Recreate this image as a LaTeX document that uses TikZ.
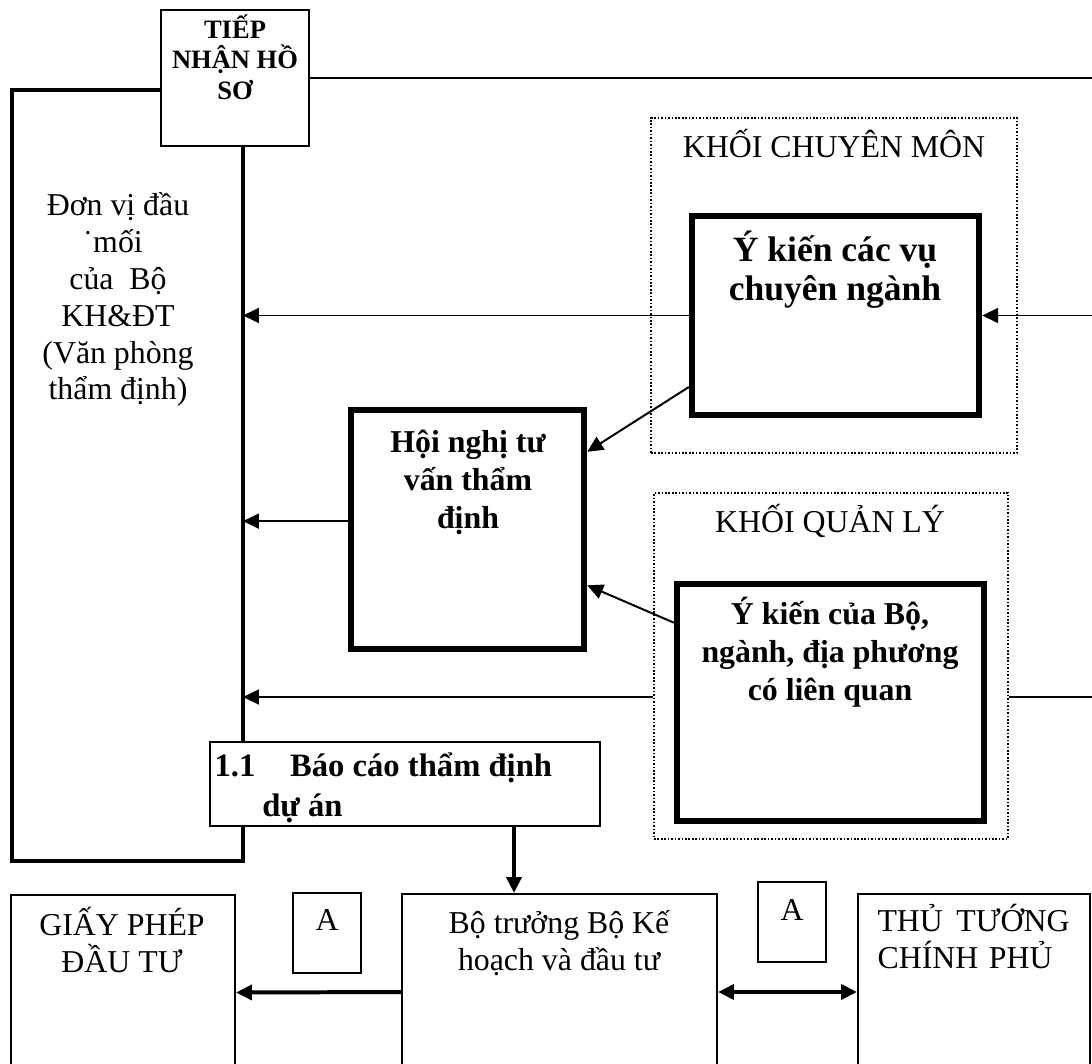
\documentclass[tikz,border=0pt]{standalone}
\usepackage{fontspec}
\setmainfont{Liberation Serif}
\usetikzlibrary{arrows.meta, positioning, fit}

\begin{document}
\begin{tikzpicture}[
  x=0.377pt, y=-0.377pt,
  box/.style={rectangle, draw=black, line width=0.75pt, inner sep=0pt},
  heavybox/.style={rectangle, draw=black, line width=2.4pt, inner sep=0pt},
  group/.style={rectangle, draw=black, line width=0.7pt, dash pattern=on 0.6pt off 0.7pt, inner sep=0pt},
  txt/.style={align=center, inner sep=0pt, font=\fontsize{12}{13.9}\selectfont},
  btxt/.style={align=center, inner sep=0pt, font=\fontsize{12}{14.2}\selectfont\bfseries},
  letter/.style={box, font=\fontsize{12}{13.9}\selectfont, minimum width=25.6pt, anchor=base},
  frame/.style={line width=1.25pt},
  link/.style={line width=0.75pt},
  arrow/.style={-{Triangle[length=6pt, width=5.6pt]}, line width=0.75pt},
  heavyarrow/.style={-{Triangle[length=6pt, width=5.6pt]}, line width=1.5pt},
  twoway/.style={{Triangle[length=6pt, width=5.6pt]}-{Triangle[length=6pt, width=5.6pt]}, line width=1.5pt}
]
\useasboundingbox (0,0) rectangle (1092,1063);
\clip (0,0) rectangle (1092,1063);

% helper points
\coordinate (rim) at (1092,0);
\coordinate (dv) at (243,0);
\coordinate (ftop) at (0,90);
\coordinate (fbl) at (12,861);
\coordinate (drop) at (514,0);

% receiving the file
\node[box, fit={(161,10) (309,146)}] (tiep) {};
\node[btxt, font=\fontsize{10}{11.5}\selectfont\bfseries, anchor=north] (tiep-t) at (235,14) {TIẾP\\NHẬN HỒ\\SƠ};

% focal unit
\node[txt, anchor=north] (dv-t) at (118,192) {Đơn vị đầu\\\llap{˙}mối\\của\ \ Bộ\\KH\&ĐT\\(Văn phòng\\thẩm định)};

% specialised block
\node[group, fit={(651,118) (1017,453)}] (cm) {};
\node[txt, anchor=north] (cm-t) at (834,129) {KHỐI CHUYÊN MÔN};
\node[heavybox, fit={(692,216) (979,415)}] (vu) {};
\node[btxt, font=\fontsize{13.4}{15}\selectfont\bfseries, anchor=north] (vu-t) at (835,230) {Ý kiến các vụ\\chuyên ngành};

% council
\node[heavybox, fit={(351,410) (584,649)}] (hn) {};
\node[btxt, anchor=north] (hn-t) at (468,430) {Hội nghị tư\\vấn thẩm\\định};

% management block
\node[group, fit={(654,493) (1008,839)}] (ql) {};
\node[txt, anchor=north] (ql-t) at (830,504) {KHỐI QUẢN LÝ};
\node[heavybox, fit={(677,584) (984,821)}] (bo) {};
\node[btxt, anchor=north] (bo-t) at (830,597) {Ý kiến của Bộ,\\ngành, địa phương\\có liên quan};

% report
\node[box, fit={(210,742) (600,826)}] (bc) {};
\node[btxt, align=left, font=\fontsize{12.3}{15}\selectfont\bfseries, anchor=north west] (bc-t) at (214,752)
  {\makebox[28.5pt][l]{1.1}Báo cáo thẩm định\\\hspace*{18pt}dự án};

% bottom row
\node[box, fit={(11,895) (235,1090)}] (gp) {};
\node[txt, anchor=north] (gp-t) at (122,907) {GIẤY PHÉP\\ĐẦU TƯ};
\node[box, fit={(402,894) (717,1090)}] (bt) {};
\node[txt, anchor=north] (bt-t) at (559,910) {Bộ trưởng Bộ Kế\\hoạch và đầu tư};
\node[box, fit={(858,894) (1090,1090)}] (tt) {};
\node[txt, align=left, text width=72.4pt, anchor=north west] (tt-t) at (877,904) {THỦ\hfill TƯỚNG\\CHÍNH PHỦ};
\node[letter, text height=14pt, text depth=16.2pt] (a1) at (327,930) {A};
\node[letter, text height=14.3pt, text depth=15.8pt] (a2) at (792,920) {A};

% focal unit frame
\draw[frame] (tiep.west |- ftop) -| (fbl) -| (bc.south -| dv);
\draw[frame] (tiep.south -| dv) -- (bc.north -| dv);

% lines from the right
\draw[link] (tiep.east) -- (tiep.east -| rim);
\draw[arrow] (vu.east -| rim) -- (vu.east);
\draw[link] (ql.east |- bo.2) -- (bo.2 -| rim);

% into the focal unit
\draw[arrow] (vu.west) -- (vu.west -| dv);
\draw[arrow] (hn.176) -- (hn.176 -| dv);
\draw[arrow] (ql.west |- bo.178) -- (bo.178 -| dv);

% into the council
\draw[arrow] (vu.206) -- (hn.33);
\draw[arrow] (bo.153) -- (hn.335);

% decision
\draw[heavyarrow] (bc.south -| drop) -- (bt.north -| drop);
\draw[heavyarrow] (bt.west) -- (gp.east);
\draw[twoway] (bt.east) -- (tt.west);
\end{tikzpicture}
\end{document}
